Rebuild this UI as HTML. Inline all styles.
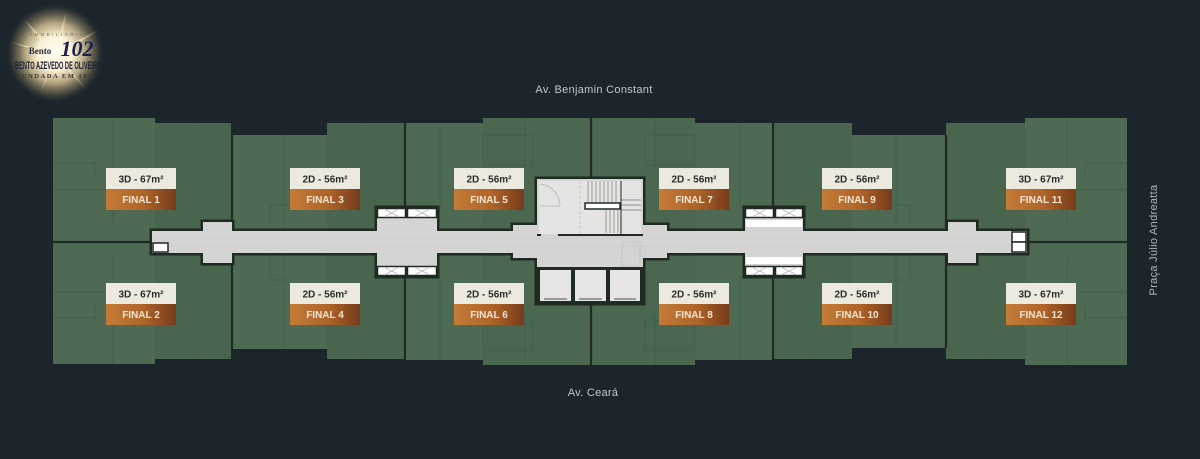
<!DOCTYPE html>
<html>
<head>
<meta charset="utf-8">
<style>
  html, body { margin: 0; padding: 0; background: #1c252b; }
  body { width: 1200px; height: 459px; overflow: hidden; }
  svg { display: block; }
  .lbl { font-family: "Liberation Sans", sans-serif; font-weight: bold; font-size: 10px; text-anchor: middle; }
</style>
</head>
<body>
<svg width="1200" height="459" viewBox="0 0 1200 459" xmlns="http://www.w3.org/2000/svg">
  <defs>
    <linearGradient id="brown" x1="0" y1="0" x2="1" y2="0">
      <stop offset="0" stop-color="#c47b37"/>
      <stop offset="0.55" stop-color="#ae6329"/>
      <stop offset="1" stop-color="#763b1a"/>
    </linearGradient>
    <radialGradient id="glow" cx="0.5" cy="0.5" r="0.5">
      <stop offset="0" stop-color="#fffdf6"/>
      <stop offset="0.35" stop-color="#fbf1d6"/>
      <stop offset="0.6" stop-color="#e6d39f" stop-opacity="0.75"/>
      <stop offset="0.85" stop-color="#a8986c" stop-opacity="0.25"/>
      <stop offset="1" stop-color="#1c252b" stop-opacity="0"/>
    </radialGradient>
    <radialGradient id="ray" cx="0.5" cy="0.5" r="0.5">
      <stop offset="0" stop-color="#fff6dc" stop-opacity="0.9"/>
      <stop offset="1" stop-color="#fff6dc" stop-opacity="0"/>
    </radialGradient>
  </defs>

  <rect width="1200" height="459" fill="#1c252b"/>

  <!-- Logo -->
  <g>
    <g fill="url(#ray)">
      <polygon points="55,52 68,4 60,52"/>
      <polygon points="55,52 18,12 52,55"/>
      <polygon points="55,52 4,74 53,50"/>
      <polygon points="55,52 106,26 57,56"/>
      <polygon points="55,52 38,100 58,53"/>
      <polygon points="55,52 92,96 53,54"/>
      <polygon points="55,52 2,40 55,56"/>
    </g>
    <circle cx="55" cy="53" r="50" fill="url(#glow)"/>
    <text x="58" y="36" font-family="Liberation Sans, sans-serif" font-size="4.5" fill="#6a6a6a" text-anchor="middle" letter-spacing="2.5">IMOBILIÁRIA</text>
    <text x="40" y="54" font-family="Liberation Serif, serif" font-size="9" font-weight="bold" fill="#2a2f45" text-anchor="middle">Bento</text>
    <text x="77" y="56" font-family="Liberation Serif, serif" font-size="22" font-style="italic" font-weight="bold" fill="#1b2050" text-anchor="middle">102</text>
    <text x="58" y="69" font-family="Liberation Sans Narrow, Liberation Sans, sans-serif" font-size="11" font-weight="bold" fill="#1d1f2e" text-anchor="middle" textLength="86" lengthAdjust="spacingAndGlyphs">BENTO AZEVEDO DE OLIVEIRA</text>
    <text x="57" y="78" font-family="Liberation Serif, serif" font-size="6.5" font-weight="bold" fill="#3a3526" text-anchor="middle" letter-spacing="1.5">FUNDADA EM 1921</text>
  </g>

  <!-- Street labels -->
  <text x="594" y="93" font-family="Liberation Sans, sans-serif" font-size="11" fill="#c3c8ca" text-anchor="middle" letter-spacing="0.3">Av. Benjamin Constant</text>
  <text x="593" y="396" font-family="Liberation Sans, sans-serif" font-size="11" fill="#c3c8ca" text-anchor="middle" letter-spacing="0.3">Av. Ceará</text>
  <text transform="translate(1157,240) rotate(-90)" font-family="Liberation Sans, sans-serif" font-size="11" fill="#aeb3b6" text-anchor="middle" letter-spacing="0.3">Praça Júlio Andreatta</text>

  <!-- Green unit blocks -->
  <g fill="#4e6a52">
    <polygon points="53,118 155,118 155,123 232,123 232,359 155,359 155,364 53,364"/>
    <polygon points="232,135 327,135 327,123 405,123 405,359 327,359 327,349 232,349"/>
    <polygon points="405,123 483,123 483,118 591,118 591,365 483,365 483,360 405,360"/>
    <polygon points="591,118 695,118 695,123 773,123 773,360 695,360 695,365 591,365"/>
    <polygon points="773,123 852,123 852,135 946,135 946,348 852,348 852,359 773,359"/>
    <polygon points="946,123 1025,123 1025,118 1127,118 1127,365 1025,365 1025,359 946,359"/>
  </g>
  <!-- subtle shade variations -->
  <g fill="#4a654e">
    <rect x="155" y="123" width="77" height="236"/>
    <rect x="327" y="123" width="78" height="236"/>
    <rect x="483" y="118" width="108" height="247" opacity="0.6"/>
    <rect x="591" y="118" width="104" height="247" opacity="0.6"/>
    <rect x="773" y="123" width="79" height="236"/>
    <rect x="946" y="123" width="79" height="236"/>
  </g>

  <!-- interior faint room lines -->
  <g stroke="#445e48" stroke-width="1" fill="none" opacity="0.8">
    <line x1="113" y1="118" x2="113" y2="225"/>
    <line x1="113" y1="258" x2="113" y2="364"/>
    <polyline points="53,163 95,163 95,178"/>
    <polyline points="53,318 95,318 95,303"/>
    <line x1="53" y1="190" x2="105" y2="190"/>
    <line x1="53" y1="292" x2="105" y2="292"/>
    <line x1="195" y1="123" x2="195" y2="230"/>
    <line x1="195" y1="263" x2="195" y2="359"/>
    <line x1="284" y1="135" x2="284" y2="230"/>
    <line x1="284" y1="254" x2="284" y2="349"/>
    <line x1="365" y1="123" x2="365" y2="207"/>
    <line x1="365" y1="277" x2="365" y2="359"/>
    <polyline points="270,230 270,205 290,205"/>
    <polyline points="270,254 270,280 290,280"/>
    <line x1="440" y1="123" x2="440" y2="207"/>
    <line x1="440" y1="277" x2="440" y2="360"/>
    <line x1="525" y1="118" x2="525" y2="170"/>
    <line x1="525" y1="315" x2="525" y2="365"/>
    <rect x="483" y="135" width="50" height="30"/>
    <rect x="483" y="320" width="50" height="30"/>
    <line x1="655" y1="118" x2="655" y2="170"/>
    <line x1="655" y1="315" x2="655" y2="365"/>
    <rect x="645" y="135" width="50" height="30"/>
    <rect x="645" y="320" width="50" height="30"/>
    <line x1="740" y1="123" x2="740" y2="207"/>
    <line x1="740" y1="277" x2="740" y2="360"/>
    <line x1="815" y1="123" x2="815" y2="207"/>
    <line x1="815" y1="277" x2="815" y2="359"/>
    <line x1="896" y1="135" x2="896" y2="230"/>
    <line x1="896" y1="254" x2="896" y2="348"/>
    <polyline points="910,230 910,205 890,205"/>
    <polyline points="910,254 910,280 890,280"/>
    <line x1="985" y1="123" x2="985" y2="230"/>
    <line x1="985" y1="263" x2="985" y2="359"/>
    <line x1="1067" y1="118" x2="1067" y2="225"/>
    <line x1="1067" y1="258" x2="1067" y2="365"/>
    <polyline points="1127,163 1085,163 1085,178"/>
    <polyline points="1127,318 1085,318 1085,303"/>
    <line x1="1075" y1="190" x2="1127" y2="190"/>
    <line x1="1075" y1="292" x2="1127" y2="292"/>
  </g>

  <!-- Unit separator walls -->
  <g stroke="#1f2a25" stroke-width="2.2" fill="none">
    <line x1="232" y1="123" x2="232" y2="359"/>
    <line x1="405" y1="123" x2="405" y2="360"/>
    <line x1="591" y1="118" x2="591" y2="180"/>
    <line x1="591" y1="302" x2="591" y2="365"/>
    <line x1="773" y1="123" x2="773" y2="360"/>
    <line x1="946" y1="135" x2="946" y2="348"/>
    <line x1="53" y1="242" x2="153" y2="242"/>
    <line x1="1027" y1="242" x2="1127" y2="242"/>
  </g>

  <!-- Corridor outline (drawn thick underneath) -->
  <g fill="#1f2a25" stroke="#1f2a25" stroke-width="5" stroke-linejoin="miter">
    <rect x="152" y="231" width="875" height="22"/>
    <rect x="203" y="222" width="29" height="41"/>
    <rect x="377" y="208" width="60" height="68"/>
    <rect x="513" y="225" width="154" height="33"/>
    <rect x="537" y="179" width="106" height="124"/>
    <rect x="745" y="208" width="58" height="68"/>
    <rect x="948" y="222" width="28" height="41"/>
  </g>
  <!-- Corridor fill -->
  <g fill="#d4d4d2">
    <rect x="152" y="231" width="875" height="22"/>
    <rect x="203" y="222" width="29" height="41"/>
    <rect x="377" y="218" width="60" height="48"/>
    <rect x="513" y="225" width="154" height="33"/>
    <rect x="537" y="179" width="106" height="124"/>
    <rect x="745" y="218" width="58" height="48"/>
    <rect x="948" y="222" width="28" height="41"/>
  </g>
  <!-- faint grid on corridor -->
  <g stroke="#c6c6c4" stroke-width="0.6">
    <line x1="152" y1="238" x2="1027" y2="238"/>
    <line x1="152" y1="246" x2="1027" y2="246"/>
  </g>

  <!-- X boxes -->
  <g fill="#ffffff" stroke="#1f2a25" stroke-width="1.5">
    <rect x="377.5" y="208.5" width="28" height="9"/>
    <rect x="407.5" y="208.5" width="29" height="9"/>
    <rect x="377.5" y="266.5" width="28" height="9"/>
    <rect x="407.5" y="266.5" width="29" height="9"/>
    <rect x="745.5" y="208.5" width="28" height="9"/>
    <rect x="775.5" y="208.5" width="27" height="9"/>
    <rect x="745.5" y="266.5" width="28" height="9"/>
    <rect x="775.5" y="266.5" width="27" height="9"/>
  </g>
  <g stroke="#b8b8b8" stroke-width="0.8">
    <line x1="384" y1="209" x2="399" y2="217"/><line x1="384" y1="217" x2="399" y2="209"/>
    <line x1="414" y1="209" x2="430" y2="217"/><line x1="414" y1="217" x2="430" y2="209"/>
    <line x1="384" y1="267" x2="399" y2="275"/><line x1="384" y1="275" x2="399" y2="267"/>
    <line x1="414" y1="267" x2="430" y2="275"/><line x1="414" y1="275" x2="430" y2="267"/>
    <line x1="752" y1="209" x2="767" y2="217"/><line x1="752" y1="217" x2="767" y2="209"/>
    <line x1="781" y1="209" x2="797" y2="217"/><line x1="781" y1="217" x2="797" y2="209"/>
    <line x1="752" y1="267" x2="767" y2="275"/><line x1="752" y1="275" x2="767" y2="267"/>
    <line x1="781" y1="267" x2="797" y2="275"/><line x1="781" y1="275" x2="797" y2="267"/>
  </g>
  <!-- white bands in right lobby -->
  <rect x="746" y="220" width="56" height="7" fill="#ffffff"/>
  <rect x="746" y="257" width="56" height="7" fill="#ffffff"/>

  <!-- End boxes -->
  <rect x="153" y="243" width="15" height="9" fill="#ffffff" stroke="#1f2a25" stroke-width="1.5"/>
  <rect x="1012" y="232" width="14" height="10" fill="#ffffff" stroke="#1f2a25" stroke-width="1.5"/>
  <rect x="1012" y="242" width="14" height="10" fill="#ffffff" stroke="#1f2a25" stroke-width="1.5"/>

  <!-- Core: stairs -->
  <rect x="539" y="181" width="102" height="53" fill="#e4e4e2"/>
  <line x1="558" y1="235" x2="643" y2="235" stroke="#1f2a25" stroke-width="2"/>
  <line x1="537" y1="235" x2="541" y2="235" stroke="#1f2a25" stroke-width="2"/>
  <path d="M540,184 A22,22 0 0 1 560,206 L540,206" fill="none" stroke="#b5b5b3" stroke-width="0.8"/>
  <line x1="580" y1="181" x2="580" y2="234" stroke="#c0c0be" stroke-width="0.8" stroke-dasharray="3,2"/>
  <g stroke="#8e8e8c" stroke-width="0.9">
    <line x1="588" y1="181" x2="588" y2="202"/>
    <line x1="592" y1="181" x2="592" y2="202"/>
    <line x1="596" y1="181" x2="596" y2="202"/>
    <line x1="600" y1="181" x2="600" y2="202"/>
    <line x1="604" y1="181" x2="604" y2="202"/>
    <line x1="608" y1="181" x2="608" y2="202"/>
    <line x1="612" y1="181" x2="612" y2="202"/>
    <line x1="616" y1="181" x2="616" y2="202"/>
    <line x1="606" y1="210" x2="606" y2="233"/>
    <line x1="610" y1="210" x2="610" y2="233"/>
    <line x1="614" y1="210" x2="614" y2="233"/>
    <line x1="618" y1="210" x2="618" y2="233"/>
    <line x1="621" y1="200" x2="641" y2="200"/>
    <line x1="621" y1="205" x2="641" y2="205"/>
    <line x1="621" y1="210" x2="641" y2="210"/>
  </g>
  <rect x="585" y="203" width="35" height="6" fill="#ffffff" stroke="#1f2a25" stroke-width="1.5"/>
  <line x1="621" y1="181" x2="621" y2="234" stroke="#1f2a25" stroke-width="1"/>

  <!-- Core: elevators -->
  <rect x="537" y="267" width="106" height="36" fill="#1f2a25"/>
  <rect x="540" y="270" width="31" height="31" fill="#e6e6e4"/>
  <rect x="575" y="270" width="31" height="31" fill="#e6e6e4"/>
  <rect x="610" y="270" width="30" height="31" fill="#e6e6e4"/>
  <g fill="#9a9a98">
    <rect x="544" y="298" width="23" height="2"/>
    <rect x="579" y="298" width="23" height="2"/>
    <rect x="614" y="298" width="22" height="2"/>
  </g>
  <rect x="622" y="242" width="18" height="24" fill="none" stroke="#b3b3b1" stroke-width="0.8" stroke-dasharray="2,1.5"/>

  <!-- Labels -->
  <g>
    <rect x="106" y="168" width="70" height="21" fill="#ece9df"/><rect x="106" y="189" width="70" height="21" fill="url(#brown)"/>
    <text class="lbl" x="141" y="182.5" fill="#2b2b2b">3D - 67m²</text><text class="lbl" x="141" y="203" fill="#f4e6d2">FINAL 1</text>

    <rect x="290" y="168" width="70" height="21" fill="#ece9df"/><rect x="290" y="189" width="70" height="21" fill="url(#brown)"/>
    <text class="lbl" x="325" y="182.5" fill="#2b2b2b">2D - 56m²</text><text class="lbl" x="325" y="203" fill="#f4e6d2">FINAL 3</text>

    <rect x="454" y="168" width="70" height="21" fill="#ece9df"/><rect x="454" y="189" width="70" height="21" fill="url(#brown)"/>
    <text class="lbl" x="489" y="182.5" fill="#2b2b2b">2D - 56m²</text><text class="lbl" x="489" y="203" fill="#f4e6d2">FINAL 5</text>

    <rect x="659" y="168" width="70" height="21" fill="#ece9df"/><rect x="659" y="189" width="70" height="21" fill="url(#brown)"/>
    <text class="lbl" x="694" y="182.5" fill="#2b2b2b">2D - 56m²</text><text class="lbl" x="694" y="203" fill="#f4e6d2">FINAL 7</text>

    <rect x="822" y="168" width="70" height="21" fill="#ece9df"/><rect x="822" y="189" width="70" height="21" fill="url(#brown)"/>
    <text class="lbl" x="857" y="182.5" fill="#2b2b2b">2D - 56m²</text><text class="lbl" x="857" y="203" fill="#f4e6d2">FINAL 9</text>

    <rect x="1006" y="168" width="70" height="21" fill="#ece9df"/><rect x="1006" y="189" width="70" height="21" fill="url(#brown)"/>
    <text class="lbl" x="1041" y="182.5" fill="#2b2b2b">3D - 67m²</text><text class="lbl" x="1041" y="203" fill="#f4e6d2">FINAL 11</text>

    <rect x="106" y="283" width="70" height="21" fill="#ece9df"/><rect x="106" y="304" width="70" height="21" fill="url(#brown)"/>
    <text class="lbl" x="141" y="297.5" fill="#2b2b2b">3D - 67m²</text><text class="lbl" x="141" y="318" fill="#f4e6d2">FINAL 2</text>

    <rect x="290" y="283" width="70" height="21" fill="#ece9df"/><rect x="290" y="304" width="70" height="21" fill="url(#brown)"/>
    <text class="lbl" x="325" y="297.5" fill="#2b2b2b">2D - 56m²</text><text class="lbl" x="325" y="318" fill="#f4e6d2">FINAL 4</text>

    <rect x="454" y="283" width="70" height="21" fill="#ece9df"/><rect x="454" y="304" width="70" height="21" fill="url(#brown)"/>
    <text class="lbl" x="489" y="297.5" fill="#2b2b2b">2D - 56m²</text><text class="lbl" x="489" y="318" fill="#f4e6d2">FINAL 6</text>

    <rect x="659" y="283" width="70" height="21" fill="#ece9df"/><rect x="659" y="304" width="70" height="21" fill="url(#brown)"/>
    <text class="lbl" x="694" y="297.5" fill="#2b2b2b">2D - 56m²</text><text class="lbl" x="694" y="318" fill="#f4e6d2">FINAL 8</text>

    <rect x="822" y="283" width="70" height="21" fill="#ece9df"/><rect x="822" y="304" width="70" height="21" fill="url(#brown)"/>
    <text class="lbl" x="857" y="297.5" fill="#2b2b2b">2D - 56m²</text><text class="lbl" x="857" y="318" fill="#f4e6d2">FINAL 10</text>

    <rect x="1006" y="283" width="70" height="21" fill="#ece9df"/><rect x="1006" y="304" width="70" height="21" fill="url(#brown)"/>
    <text class="lbl" x="1041" y="297.5" fill="#2b2b2b">3D - 67m²</text><text class="lbl" x="1041" y="318" fill="#f4e6d2">FINAL 12</text>
  </g>
</svg>
</body>
</html>
